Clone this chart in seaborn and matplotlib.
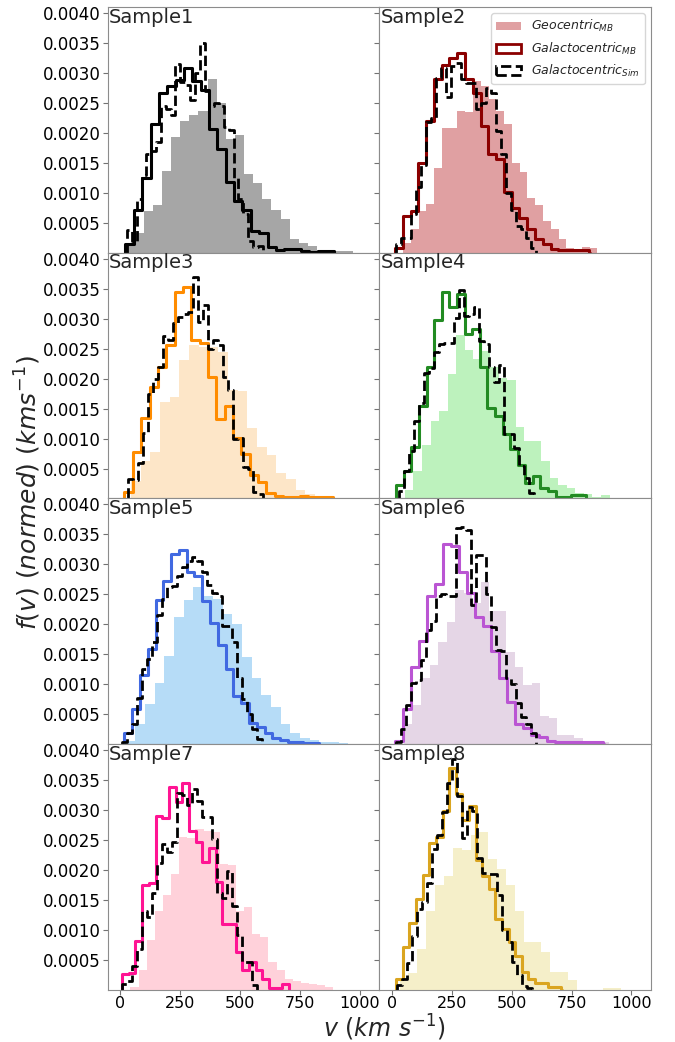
import numpy as np
import matplotlib
matplotlib.use("Agg")
import matplotlib.pyplot as plt
from matplotlib.patches import Patch
from matplotlib.ticker import FormatStrFormatter
import seaborn as sns

# ---------------------------------------------------------------------------
# Speed distributions f(v) for eight samples.
# Heights are given in units of 1e-4 (km s^-1)^-1; bins are described by the
# first edge and a constant width (km/s).
# ---------------------------------------------------------------------------
samples = ["Sample1", "Sample2", "Sample3", "Sample4",
           "Sample5", "Sample6", "Sample7", "Sample8"]

geo_start = [20.9, 46.0, 44.6, 54.4, 22.3, 50.2, 41.8, 32.1]
geo_width = [38.1, 32.5, 40.4, 35.6, 40.4, 35.6, 33.9, 37.0]
mb_start = [20.9, 12.6, 16.7, 18.1, 16.7, 12.6, 7.0, 18.1]
mb_width = [34.9, 32.5, 34.9, 31.7, 32.5, 33.5, 27.9, 27.6]
sim_start = [27.9, 15.3, 30.7, 29.3, 7.0, 15.3, 7.0, 22.3]
sim_width = [20.2, 20.9, 20.9, 20.9, 20.9, 20.9, 20.9, 20.9]

# Geocentric, Maxwell-Boltzmann
geo1 = [1.4, 3.3, 6.9, 7.9, 13.7, 19.3, 21.9, 22.9, 23.7, 29.0, 25.0, 18.9, 19.6,
        13.1, 11.7, 8.9, 7.1, 5.6, 2.3, 1.7, 1.1, 0.45, 0.45, 0.3, 0.3]
geo2 = [1.6, 4.0, 6.9, 8.2, 14.2, 20.8, 20.8, 23.7, 23.4, 28.6, 27.9, 25.6, 23.7,
        21.4, 14.9, 13.4, 9.2, 7.9, 5.3, 4.0, 2.3, 0.8, 0.55, 1.0, 0.8]
geo3 = [3.0, 6.2, 7.8, 16.1, 16.9, 23.1, 25.6, 25.3, 25.3, 24.4, 18.1, 17.9, 11.8,
        8.6, 7.3, 4.2, 3.3, 1.4, 0.7, 0.45, 0.3, 0.15, 0.1]
geo4 = [1.5, 4.6, 9.0, 13.0, 14.6, 20.8, 27.2, 24.7, 23.2, 24.6, 21.9, 20.1, 19.8,
        11.9, 9.6, 9.6, 6.3, 3.4, 2.2, 1.7, 0.9, 0.8, 0.2, 0.55]
geo5 = [0.6, 3.3, 6.7, 10.2, 14.7, 21.2, 24.1, 26.3, 24.7, 24.2, 21.7, 20.1, 14.6,
        11.1, 8.2, 6.2, 3.4, 1.8, 1.0, 0.7, 0.45, 0.3, 0.15]
geo6 = [3.3, 6.6, 11.0, 13.2, 17.0, 20.4, 25.7, 25.3, 23.6, 27.0, 22.3, 22.3, 15.4,
        12.9, 9.9, 10.3, 4.7, 4.3, 1.5, 1.6, 1.0, 0.55, 0.45, 0.3]
geo7 = [0.55, 3.4, 8.4, 13.2, 15.8, 19.3, 25.5, 25.3, 26.8, 26.5, 26.3, 21.0, 20.8,
        13.1, 13.8, 9.3, 8.9, 4.7, 3.3, 1.9, 1.5, 1.1, 1.0, 0.8, 0.55]
geo8 = [1.5, 2.9, 6.9, 13.2, 17.6, 19.1, 23.7, 23.3, 25.9, 26.4, 21.9, 20.2, 17.5,
        13.2, 8.0, 8.0, 6.3, 3.0, 3.0, 1.6, 0.0, 0.0, 0.0, 0.3, 0.3]

# Galactocentric, Maxwell-Boltzmann
mb1 = [1.4, 7.1, 12.5, 21.4, 26.6, 27.9, 28.9, 30.8, 28.6, 27.1, 20.6, 17.3, 11.8,
       8.7, 7.2, 3.6, 3.3, 1.0, 0.45, 0.65, 0.65, 0.3, 0.1, 0.3, 0.3]
mb2 = [0.8, 6.2, 6.9, 15.0, 21.9, 29.0, 31.4, 32.5, 33.4, 29.0, 26.6, 21.2, 16.4,
       15.7, 10.2, 7.5, 5.8, 4.0, 2.3, 1.4, 0.65, 0.45, 0.45, 0.45, 0.45]
mb3 = [1.1, 7.8, 13.4, 18.6, 21.9, 25.6, 34.4, 35.3, 26.4, 26.0, 20.3, 13.2, 15.4,
       10.1, 7.5, 4.0, 2.8, 1.0, 0.45, 0.3, 0.3, 0.45, 0.3, 0.3, 0.3]
mb4 = [2.3, 4.6, 8.6, 15.4, 21.9, 29.7, 34.4, 31.9, 34.1, 27.4, 28.3, 21.9, 15.1,
       13.7, 10.8, 8.3, 5.6, 2.6, 3.7, 1.7, 1.2, 0.2, 0.3, 0.55, 0.55]
mb5 = [1.9, 5.9, 11.6, 15.9, 24.1, 27.2, 31.8, 32.4, 28.7, 28.0, 23.9, 20.2, 16.6,
       12.5, 8.0, 6.9, 3.6, 2.9, 1.8, 1.1, 0.7, 0.35, 0.3, 0.15, 0.15]
mb6 = [0.55, 5.8, 12.9, 17.3, 24.8, 26.8, 33.4, 33.1, 28.8, 25.3, 21.2, 19.8, 15.5,
       11.1, 7.1, 3.4, 2.7, 1.6, 1.2, 0.55, 0.45, 0.3, 0.3, 0.3, 0.3, 0.3]
mb7 = [2.7, 2.8, 8.2, 17.5, 17.9, 29.1, 28.7, 33.8, 31.3, 34.5, 26.6, 24.7, 21.3,
       23.7, 18.1, 11.0, 11.0, 6.3, 3.4, 4.7, 3.4, 1.8, 0.4, 0.4, 1.0]
mb8 = [1.9, 7.1, 11.1, 15.1, 19.2, 24.5, 25.5, 29.9, 37.1, 32.7, 28.3, 30.7, 21.7,
       19.0, 16.8, 11.8, 10.2, 8.0, 5.6, 3.0, 1.8, 1.2, 1.2, 0.55, 0.55]

# Galactocentric, simulation
sim1 = [3.8, 2.0, 9.0, 13.0, 16.5, 17.0, 18.5, 24.5, 24.0, 23.0, 31.5, 28.5, 28.0,
        25.5, 30.0, 35.0, 27.0, 24.5, 25.0, 24.5, 21.0, 20.5, 12.5, 9.0, 6.5, 2.0,
        1.0, 1.2]
sim2 = [1.4, 2.5, 2.5, 6.4, 11.0, 14.7, 21.8, 22.5, 29.2, 30.8, 26.0, 31.1, 31.7,
        29.0, 28.3, 28.3, 23.9, 25.0, 27.5, 26.7, 20.3, 16.4, 10.0, 7.2, 4.4, 3.9,
        2.5, 0.8]
sim3 = [3.3, 3.1, 6.0, 11.0, 17.5, 20.0, 22.0, 27.1, 26.4, 29.3, 30.3, 30.8, 31.1,
        36.9, 29.4, 32.2, 24.9, 26.5, 25.6, 20.3, 18.1, 10.0, 10.1, 5.3, 5.0, 1.1,
        0.8]
sim4 = [1.2, 4.6, 7.9, 12.9, 16.0, 20.9, 21.8, 24.5, 25.8, 25.9, 26.0, 30.1, 34.8,
        30.4, 30.7, 31.9, 26.3, 25.7, 22.0, 19.4, 22.3, 10.8, 10.7, 8.4, 5.5, 3.4,
        0.9]
sim5 = [0.3, 1.8, 3.3, 7.7, 12.6, 14.3, 17.0, 21.5, 24.2, 26.3, 26.4, 28.0, 29.5,
        30.5, 31.2, 30.5, 28.7, 26.5, 25.2, 24.8, 19.8, 19.7, 17.0, 11.0, 7.5, 5.0,
        2.5, 0.8]
sim6 = [0.3, 2.5, 6.6, 10.2, 10.8, 14.0, 19.0, 20.6, 24.8, 25.0, 24.7, 24.8, 36.0,
        36.3, 35.8, 23.2, 31.6, 31.6, 25.0, 19.5, 15.7, 15.5, 11.1, 10.0, 6.9, 4.5,
        3.3, 1.8]
sim7 = [1.0, 1.5, 4.0, 6.9, 13.2, 12.2, 16.2, 21.2, 24.3, 23.1, 24.7, 32.9, 32.6,
        30.9, 33.5, 31.6, 28.8, 28.8, 25.2, 16.2, 15.3, 19.8, 14.0, 9.1, 4.7, 4.6,
        0.8]
sim8 = [0.8, 1.8, 4.5, 9.0, 13.5, 14.6, 17.9, 23.5, 25.8, 29.7, 34.6, 38.5, 32.4,
        25.3, 30.5, 29.9, 22.0, 19.5, 19.4, 19.3, 15.8, 10.0, 8.0, 4.7, 2.5, 0.7,
        0.3]

geo_heights = [geo1, geo2, geo3, geo4, geo5, geo6, geo7, geo8]
mb_heights = [mb1, mb2, mb3, mb4, mb5, mb6, mb7, mb8]
sim_heights = [sim1, sim2, sim3, sim4, sim5, sim6, sim7, sim8]
SCALE = 1e-4

fill_colors = ["#a6a6a6", "#e0a0a2", "#fde6c8", "#bdf2bd",
               "#b6dcf7", "#e5d6e6", "#ffd1da", "#f5efc9"]
line_colors = ["#000000", "#8b0000", "#ff8c00", "#228b22",
               "#4169e1", "#ba55d3", "#ff1493", "#daa520"]

y_ticks = [0.0005, 0.0010, 0.0015, 0.0020, 0.0025, 0.0030, 0.0035, 0.0040]
x_ticks = [0, 250, 500, 750, 1000]

# ---------------------------------------------------------------------------
sns.set_style("ticks")
plt.rcParams.update({
    "font.family": ["DejaVu Sans"],
    "axes.edgecolor": "0.55",
    "xtick.color": "0.45",
    "ytick.color": "0.45",
    "xtick.labelcolor": "black",
    "ytick.labelcolor": "black",
    "mathtext.fontset": "dejavusans",
})


def layout(start, width, heights, pad=False):
    """Bin edges, bin centres and weights for a pre-binned histogram."""
    h = list(np.asarray(heights) * SCALE)
    edges = start + width * np.arange(len(h) + 1)
    if pad:
        # thin empty bins so the outline closes down to zero at both ends
        edges = np.concatenate([[edges[0] - 0.5], edges, [edges[-1] + 0.5]])
        h = [0.0] + h + [0.0]
    centres = 0.5 * (edges[:-1] + edges[1:])
    return edges.tolist(), centres, np.asarray(h)


fig, axes = plt.subplots(4, 2, sharex=True, sharey=True,
                         figsize=(6.75, 10.42), dpi=100)
fig.subplots_adjust(left=108 / 675, right=651 / 675,
                    top=1 - 7 / 1042, bottom=1 - 990 / 1042,
                    wspace=0, hspace=0)

for i, ax in enumerate(axes.flat):
    e, c, w = layout(geo_start[i], geo_width[i], geo_heights[i])
    sns.histplot(x=c, weights=w, bins=e, element="step", fill=True,
                 color=fill_colors[i], alpha=1, linewidth=0, ax=ax)

    e, c, w = layout(mb_start[i], mb_width[i], mb_heights[i], pad=True)
    sns.histplot(x=c, weights=w, bins=e, element="step", fill=False,
                 color=line_colors[i], linewidth=2.2, ax=ax)

    e, c, w = layout(sim_start[i], sim_width[i], sim_heights[i], pad=True)
    sns.histplot(x=c, weights=w, bins=e, element="step", fill=False,
                 color="black", linewidth=2.0, linestyle="--", ax=ax)

    ax.set_xlabel("")
    ax.set_ylabel("")
    ax.text(0.004, 0.997, samples[i], transform=ax.transAxes,
            ha="left", va="top", fontsize=14)
    for sp in ax.spines.values():
        sp.set_visible(True)
        sp.set_color("0.55")

ax0 = axes[0, 0]
ax0.set_xlim(-52, 1082)
ax0.set_ylim(0, 0.0041)
ax0.set_yticks(y_ticks)
ax0.set_xticks(x_ticks)
ax0.yaxis.set_major_formatter(FormatStrFormatter("%.4f"))
for ax in axes.flat:
    ax.tick_params(axis="y", labelsize=12, length=3.5, width=0.8, pad=1.5)
    ax.tick_params(axis="x", labelsize=11.5, length=3.5, width=0.8, pad=1.0)

handles = [
    Patch(facecolor=fill_colors[1], edgecolor="none"),
    Patch(facecolor="none", edgecolor=line_colors[1], linewidth=2),
    Patch(facecolor="none", edgecolor="black", linewidth=2, linestyle="--"),
]
labels = [r"$Geocentric_{MB}$", r"$Galactocentric_{MB}$",
          r"$Galactocentric_{Sim}$"]
axes[0, 1].legend(handles, labels, loc="upper right", fontsize=9)

fig.text(28 / 675, 0.527, r"$f(v)\ (normed)\ (kms^{-1})$", rotation=90,
         ha="center", va="center", fontsize=18)
fig.text(384 / 675, 1 - 1037 / 1042, r"$v\ (km\ s^{-1})$",
         ha="center", va="baseline", fontsize=17)

fig.savefig("out.png", dpi=100)
